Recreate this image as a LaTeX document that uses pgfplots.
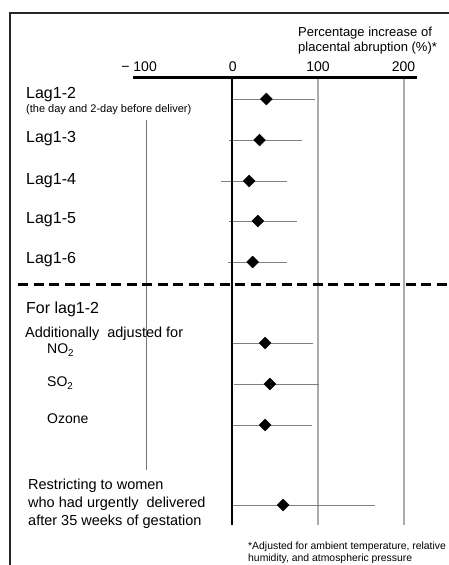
\documentclass[border=0pt]{standalone}
\usepackage{pgfplots}
\pgfplotsset{compat=1.18}
\usepackage{pgfplotstable}
\usepackage{fontspec}
\setmainfont{Liberation Sans}

% row position (px from top), estimate, lower and upper limit (% increase)
\pgfplotstableread{
row est lo hi
99  40   -1  96
140 32   -3  81.5
181 20   -13 64
221 30   -3  75
262 24   -5  64
343 38.5 -1  94.5
384 44   2.5 101.5
425 38.5 -1  93.5
505 59.5 1   166
}\forestdata

\newcommand{\fs}[1]{\fontsize{#1}{#1}\selectfont}

\begin{document}
\begin{tikzpicture}
\begin{axis}[
  scale only axis, width=448pt, height=565pt,
  at={(0,0)}, anchor=south west,
  xmin=-269.77, xmax=251.16, ymin=0, ymax=565, y dir=reverse,
  hide axis, clip=false,
]
% grid lines
\draw[black!55, line width=0.9pt] (axis cs:-100,120) -- (axis cs:-100,470);
\draw[black!33, line width=1.8pt] (axis cs:100,78) -- (axis cs:100,525);
\draw[black!33, line width=1.8pt] (axis cs:200,78) -- (axis cs:200,525);
% confidence intervals
\addplot[only marks, mark=none,
  error bars/.cd, x dir=both, x explicit, error mark=none,
  error bar style={draw=black!50, line width=0.9pt}]
  table[x=est, y=row,
        x error plus expr=\thisrow{hi}-\thisrow{est},
        x error minus expr=\thisrow{est}-\thisrow{lo}] {\forestdata};
% zero line and top axis line
\draw[black, line width=2.8pt] (axis cs:0,77.7) -- (axis cs:0,525);
\draw[black, line width=2.8pt] (axis cs:-115.1,77.7) -- (axis cs:215.1,77.7);
% point estimates
\addplot[only marks, mark=square*, mark size=4.2pt,
  mark options={rotate=45, fill=black, draw=black}]
  table[x=est, y=row] {\forestdata};
\end{axis}

\begin{scope}[shift={(0pt,565pt)}, x=1pt, y=-1pt]
% frame
\draw[black!85, line width=1.8pt] (10,566) -- (10,13) -- (449,13);
% dashed separator
\draw[black, line width=3pt, dash pattern=on 10pt off 5.5pt] (18,284.3) -- (449,284.3);
% header
\node[anchor=base west, inner sep=0, font=\fs{13}] at (298,36.7) {Percentage increase of};
\node[anchor=base west, inner sep=0, font=\fs{13}] at (298,51.5) {placental abruption (\%)*};
% tick labels
\node[anchor=base east, inner sep=0, font=\fs{14}] at (157,72) {−\hspace{4pt}100};
\node[anchor=base, inner sep=0, font=\fs{14}] at (232.7,72) {0};
\node[anchor=base, inner sep=0, font=\fs{14}] at (318,72) {100};
\node[anchor=base, inner sep=0, font=\fs{14}] at (403.5,72) {200};
% row labels
\node[anchor=base west, inner sep=0, font=\fs{16}] at (26,99) {Lag1-2};
\node[anchor=base west, inner sep=0, font=\fs{11}] at (26,112.5) {(the day and 2-day before deliver)};
\node[anchor=base west, inner sep=0, font=\fs{16}] at (26,142.5) {Lag1-3};
\node[anchor=base west, inner sep=0, font=\fs{16}] at (26,185) {Lag1-4};
\node[anchor=base west, inner sep=0, font=\fs{16}] at (26,223.5) {Lag1-5};
\node[anchor=base west, inner sep=0, font=\fs{16}] at (26,264) {Lag1-6};
\node[anchor=base west, inner sep=0, font=\fs{16}] at (26,314) {For lag1-2};
\node[anchor=base west, inner sep=0, font=\fs{14.5}] at (25,338) {Additionally\hspace{4pt} adjusted for};
\node[anchor=base west, inner sep=0, font=\fs{14}] at (47,354) {NO\textsubscript{2}};
\node[anchor=base west, inner sep=0, font=\fs{14}] at (47,387) {SO\textsubscript{2}};
\node[anchor=base west, inner sep=0, font=\fs{14}] at (47,424) {Ozone};
\node[anchor=base west, inner sep=0, font=\fs{14.5}] at (28,490) {Restricting to women};
\node[anchor=base west, inner sep=0, font=\fs{14.5}] at (28,508) {who had urgently\hspace{4pt} delivered};
\node[anchor=base west, inner sep=0, font=\fs{14.5}] at (28,526) {after 35 weeks of gestation};
% footnote
\node[anchor=base west, inner sep=0, font=\fs{10.4}] at (248,549) {*Adjusted for ambient temperature, relative};
\node[anchor=base west, inner sep=0, font=\fs{10.4}] at (248,561) {humidity, and atmospheric pressure};
\end{scope}
\pgfresetboundingbox
\useasboundingbox (0,0) rectangle (448pt,565pt);
\end{tikzpicture}
\end{document}
